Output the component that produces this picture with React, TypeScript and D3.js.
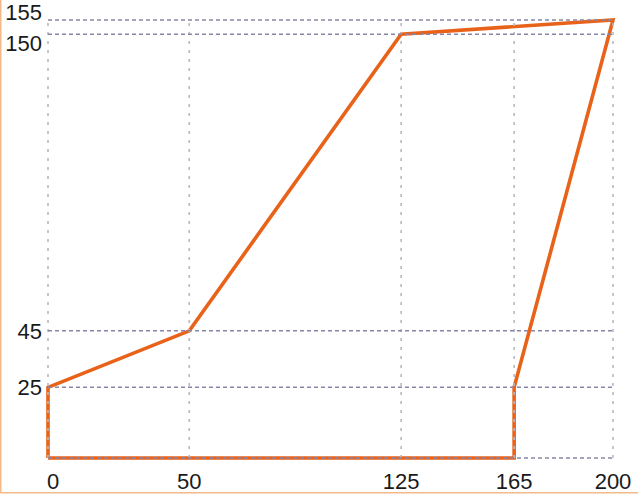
import { useEffect, useRef } from "react";
import * as d3 from "d3";

// outline points (x, y) in data units
const xs = [0, 0, 50, 125, 200, 165, 165, 0];
const ys = [0, 25, 45, 150, 155, 25, 0, 0];

const xTicks = [0, 50, 125, 165, 200];
const yTicks = [25, 45, 150, 155];

const W = 638;
const H = 495;
const MARGIN = { top: 20, right: 25, bottom: 37, left: 48 };

export default function App() {
  const svgRef = useRef<SVGSVGElement>(null);

  useEffect(() => {
    if (!svgRef.current) return;
    const svg = d3.select(svgRef.current);
    svg.selectAll("*").remove();

    const x = d3.scaleLinear().domain([0, 200]).range([MARGIN.left, W - MARGIN.right]);
    const y = d3.scaleLinear().domain([0, 155]).range([H - MARGIN.bottom, MARGIN.top]);

    // light frame on left and bottom
    svg
      .append("path")
      .attr("d", `M0.75,0 V${H - 2.25} H${W}`)
      .attr("fill", "none")
      .attr("stroke", "#f2b98a")
      .attr("stroke-width", 1.5);

    const pts: [number, number][] = xs.map((v, i) => [v, ys[i]]);
    const line = d3
      .line<[number, number]>()
      .x((d) => x(d[0]))
      .y((d) => y(d[1]));

    svg
      .append("path")
      .datum(pts)
      .attr("d", line)
      .attr("fill", "none")
      .attr("stroke", "#e8621a")
      .attr("stroke-width", 3.6)
      .attr("stroke-linejoin", "miter");

    // vertical grid
    svg
      .append("g")
      .selectAll("line")
      .data(xTicks)
      .join("line")
      .attr("x1", (d) => x(d))
      .attr("x2", (d) => x(d))
      .attr("y1", y(0))
      .attr("y2", y(155))
      .attr("stroke", "#b8b8c2")
      .attr("stroke-width", 1.6)
      .attr("stroke-dasharray", "3,6");

    // horizontal grid
    svg
      .append("g")
      .selectAll("line")
      .data([0, ...yTicks])
      .join("line")
      .attr("x1", x(0))
      .attr("x2", x(200))
      .attr("y1", (d) => y(d))
      .attr("y2", (d) => y(d))
      .attr("stroke", "#8686a6")
      .attr("stroke-width", 1.5)
      .attr("stroke-dasharray", "4,3");

    const font = "Liberation Sans, Arial, sans-serif";

    svg
      .append("g")
      .selectAll("text")
      .data(xTicks)
      .join("text")
      .attr("x", (d) => x(d) + (d === 0 ? 5 : 0))
      .attr("y", H - 6)
      .attr("text-anchor", "middle")
      .attr("font-family", font)
      .attr("font-size", 22)
      .attr("fill", "#1a1a1a")
      .text((d) => d);

    // 150/155 are nudged apart so they don't collide
    const yOff: Record<number, number> = { 155: -8, 150: 9 };
    svg
      .append("g")
      .selectAll("text")
      .data(yTicks)
      .join("text")
      .attr("x", 42)
      .attr("y", (d) => y(d) + (yOff[d] ?? 0))
      .attr("dy", "0.35em")
      .attr("text-anchor", "end")
      .attr("font-family", font)
      .attr("font-size", 22)
      .attr("fill", "#1a1a1a")
      .text((d) => d);
  }, []);

  return (
    <svg
      ref={svgRef}
      width={W}
      height={H}
      style={{ position: "absolute", left: 0, top: 0, background: "#fff" }}
    />
  );
}
